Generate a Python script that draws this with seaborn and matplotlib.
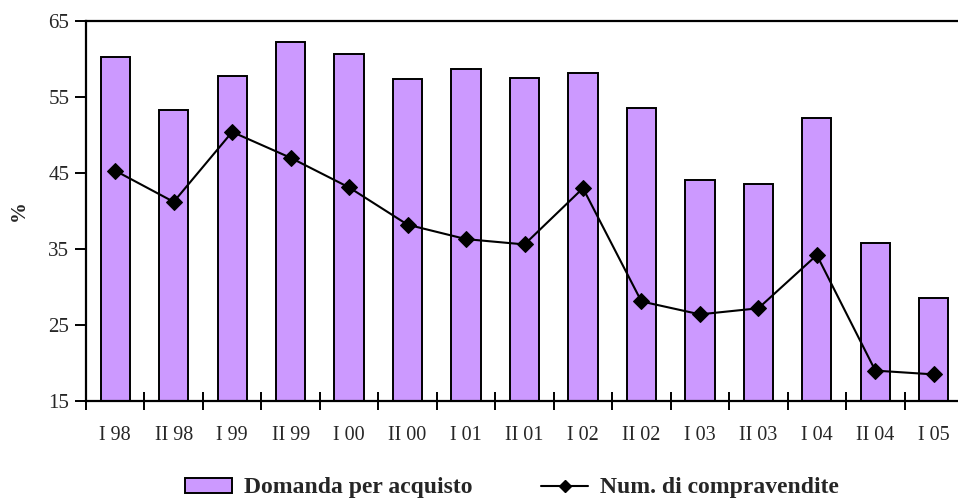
import matplotlib
matplotlib.use("Agg")
import matplotlib.pyplot as plt
from matplotlib.lines import Line2D
from matplotlib.patches import Patch
import numpy as np
import seaborn as sns

# Semesters (I / II half of each year)
periods = ["I 98", "II 98", "I 99", "II 99", "I 00", "II 00", "I 01", "II 01",
           "I 02", "II 02", "I 03", "II 03", "I 04", "II 04", "I 05"]
# Share of demand for purchase (%)
domanda = [60.2, 53.3, 57.7, 62.3, 60.7, 57.4, 58.7, 57.5,
           58.2, 53.5, 44.1, 43.5, 52.3, 35.8, 28.5]
# Number of sales (%)
compravendite = [45.3, 41.2, 50.4, 47.0, 43.1, 38.2, 36.3, 35.6,
                 43.0, 28.1, 26.4, 27.2, 34.2, 19.0, 18.5]
yticks = [15, 25, 35, 45, 55, 65]

bar_color = "#CC99FF"
sns.set_style("white")
plt.rcParams["font.family"] = ["Liberation Serif", "DejaVu Serif"]

fig = plt.figure(figsize=(9.58, 5.04), dpi=100)
ax = fig.add_axes([86 / 958, 103 / 504, 877 / 958, 380 / 504])

sns.barplot(x=periods, y=domanda, color=bar_color, edgecolor="black",
            linewidth=1.4, width=0.5, saturation=1, ax=ax, zorder=2)
sns.lineplot(x=np.arange(len(periods)), y=compravendite, color="black",
             marker="D", markersize=8, markeredgecolor="black",
             linewidth=1.5, sort=False, ax=ax, zorder=3)

ax.set_xlim(-0.5, len(periods) - 0.5)
ax.set_ylim(15, 65)
ax.set_yticks(yticks)
ax.set_yticklabels([str(v) for v in yticks], fontsize=15)
ax.set_xticks(np.arange(len(periods)))
ax.set_xticklabels(periods, fontsize=14.5)
ax.set_xticks(np.arange(len(periods) + 1) - 0.5, minor=True)
ax.tick_params(axis="x", which="major", bottom=True, length=0, pad=18)
ax.tick_params(axis="x", which="minor", bottom=True, direction="inout",
               length=13, width=1.4, color="black")
ax.tick_params(axis="y", which="major", left=True, direction="out", length=8,
               width=1.4, color="black", pad=4)

for side in ["left", "bottom", "top"]:
    ax.spines[side].set_visible(True)
    ax.spines[side].set_color("black")
    ax.spines[side].set_linewidth(1.6)
ax.spines["right"].set_visible(False)
ax.set_xlabel("")
ax.set_ylabel("%", fontsize=15, fontweight="bold", labelpad=14)

handles = [
    Patch(facecolor=bar_color, edgecolor="black", linewidth=1.4,
          label="Domanda per acquisto"),
    Line2D([0], [0], color="black", linewidth=1.5, marker="D", markersize=6,
           label="Num. di compravendite"),
]
if ax.get_legend() is not None:
    ax.get_legend().remove()
fig.legend(handles=handles, loc="center", bbox_to_anchor=(512 / 958, 1 - 488 / 504),
           ncol=2, frameon=False, prop={"size": 17, "weight": "bold"},
           handlelength=2.0, handleheight=0.6, handletextpad=0.5,
           columnspacing=2.9)

fig.savefig("out.png", dpi=100)
